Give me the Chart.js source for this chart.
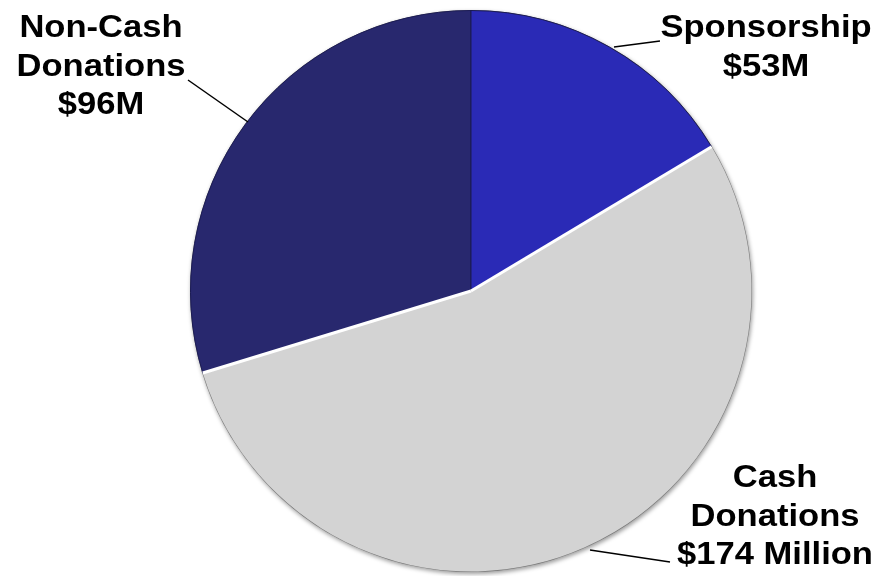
<!DOCTYPE html>
<html>
<head>
<meta charset="utf-8">
<script src="https://cdn.jsdelivr.net/npm/chart.js@4"></script>
<style>
  html, body { margin: 0; padding: 0; background: #fff; }
  #wrap { width: 880px; height: 576px; }
</style>
</head>
<body>
<div id="wrap"><canvas id="pieChart"></canvas></div>
<script>
// clockwise from 12 o'clock: Sponsorship, Cash, Non-Cash
const categories = ["Non-Cash Donations", "Sponsorship", "Cash Donations"];
const amounts = [96, 53, 174];
const labelLines = [
  ["Non-Cash", "Donations", "$96M"],
  ["Sponsorship", "$53M"],
  ["Cash", "Donations", "$174 Million"],
];
const colors = ["#28286e", "#2a2ab6", "#d3d3d3"];

const total = amounts.reduce((a, b) => a + b, 0);
// start Non-Cash so that it ends at 12 o'clock
const startRotation = -(amounts[0] / total) * 360;

// label text + leader line placement (x, first baseline, line start, line end)
const labelPos = [
  { x: 101, y: 37, from: [188, 80], to: [248, 122] },
  { x: 766, y: 37, from: [660, 41], to: [614, 47] },
  { x: 775, y: 487, from: [670, 562], to: [590, 550] },
];

const shadowPlugin = {
  id: "pieShadow",
  beforeDatasetsDraw(chart) {
    const arc = chart.getDatasetMeta(0).data[0];
    if (!arc) return;
    const ctx = chart.ctx;
    ctx.save();
    ctx.shadowColor = "rgba(0,0,0,0.4)";
    ctx.shadowBlur = 4;
    ctx.shadowOffsetX = 1;
    ctx.shadowOffsetY = 2;
    ctx.fillStyle = "#777";
    ctx.beginPath();
    ctx.arc(arc.x, arc.y, arc.outerRadius + 0.5, 0, Math.PI * 2);
    ctx.fill();
    ctx.restore();
  },
};

const labelPlugin = {
  id: "calloutLabels",
  afterDatasetsDraw(chart) {
    const ctx = chart.ctx;
    // white separators along the edges of the cash slice
    const cash = chart.getDatasetMeta(0).data[2];
    if (cash) {
      ctx.save();
      ctx.strokeStyle = "#ffffff";
      ctx.lineWidth = 3;
      [cash.startAngle, cash.endAngle].forEach((a) => {
        ctx.beginPath();
        ctx.moveTo(cash.x, cash.y);
        ctx.lineTo(cash.x + Math.cos(a) * cash.outerRadius, cash.y + Math.sin(a) * cash.outerRadius);
        ctx.stroke();
      });
      ctx.restore();
    }
    ctx.save();
    ctx.font = "bold 32px 'Liberation Sans', Arial, sans-serif";
    ctx.fillStyle = "#000";
    ctx.textAlign = "center";
    ctx.textBaseline = "alphabetic";
    labelLines.forEach((lines, i) => {
      const p = labelPos[i];
      lines.forEach((t, j) => {
        ctx.save();
        ctx.translate(p.x, p.y + j * 38.5);
        ctx.scale(1.08, 1);
        ctx.fillText(t, 0, 0);
        ctx.restore();
      });
      ctx.strokeStyle = "#000";
      ctx.lineWidth = 1.5;
      ctx.beginPath();
      ctx.moveTo(p.from[0], p.from[1]);
      ctx.lineTo(p.to[0], p.to[1]);
      ctx.stroke();
    });
    ctx.restore();
  },
};

const ctx = document.getElementById("pieChart").getContext("2d");

const pieChart = new Chart(ctx, {
  type: "pie",
  data: {
    labels: categories,
    datasets: [
      {
        data: amounts,
        backgroundColor: colors,
        borderColor: ["#1b1b55", "#1b1b55", "#ffffff"],
        borderWidth: [1, 1, 0],
      },
    ],
  },
  options: {
    responsive: true,
    maintainAspectRatio: false,
    animation: false,
    rotation: startRotation,
    layout: {
      padding: { left: 190, right: 128, top: 10, bottom: 4 },
    },
    plugins: {
      legend: { display: false },
      title: { display: false },
      tooltip: { enabled: false },
    },
  },
  plugins: [shadowPlugin, labelPlugin],
});
</script>
</body>
</html>
